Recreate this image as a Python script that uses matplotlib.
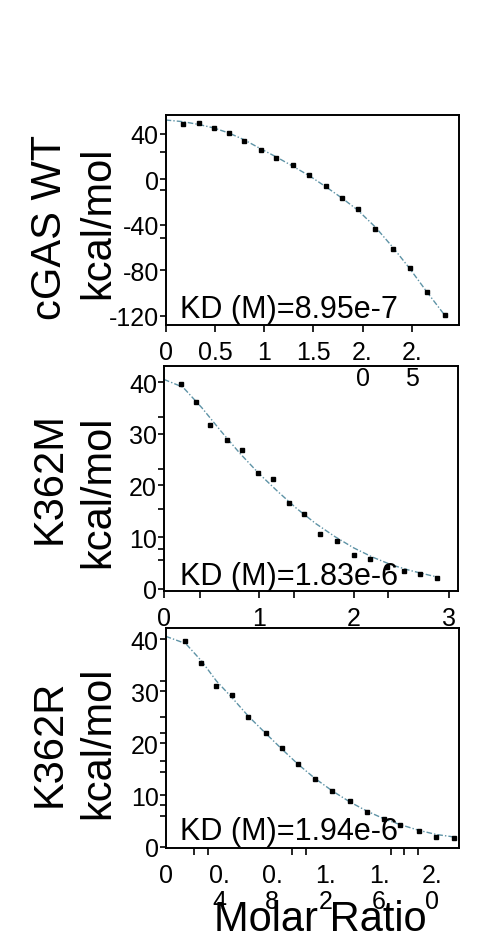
#!/usr/bin/env python3
import matplotlib
matplotlib.use("Agg")
import matplotlib.pyplot as plt

plt.rcParams['font.family'] = ['Liberation Sans', 'DejaVu Sans']

# cGAS WT
wt_x = [0.18, 0.34, 0.49, 0.645, 0.80, 0.97, 1.125, 1.29, 1.46, 1.625, 1.79, 1.95, 2.13, 2.31, 2.48, 2.65, 2.84]
wt_y = [48.2, 49.0, 44.7, 40.9, 33.6, 25.4, 18.9, 12.2, 3.5, -5.9, -16.1, -26.4, -43.3, -60.9, -78.1, -98.9, -119.4]
wt_fit_x = [0, 0.18, 0.34, 0.49, 0.645, 0.8, 0.97, 1.125, 1.29, 1.46, 1.625, 1.79, 1.95, 2.13, 2.31, 2.48, 2.65, 2.84]
wt_fit_y = [52, 50.5, 48, 45, 40.5, 34.5, 26.5, 19.5, 11.5, 3, -6.5, -16.5, -27, -42, -60, -78.5, -98.5, -120]

# K362M
m_x = [0.18, 0.34, 0.49, 0.66, 0.82, 0.99, 1.15, 1.32, 1.48, 1.65, 1.82, 2.0, 2.17, 2.35, 2.53, 2.70, 2.88]
m_y = [39.7, 36.1, 31.6, 28.8, 26.8, 22.4, 21.2, 16.6, 14.5, 10.5, 9.2, 6.6, 5.8, 4.1, 3.5, 2.9, 2.1]
m_fit_x = [0, 0.2, 0.4, 0.6, 0.8, 1.0, 1.2, 1.4, 1.6, 1.8, 2.0, 2.2, 2.4, 2.6, 2.8, 2.9]
m_fit_y = [40.5, 39, 35, 30.5, 26.2, 22.3, 18.8, 15.5, 12.6, 10.1, 7.9, 6.1, 4.6, 3.5, 2.6, 2.2]

# K362R
r_x = [0.145, 0.266, 0.38, 0.50, 0.62, 0.75, 0.87, 0.99, 1.12, 1.25, 1.38, 1.51, 1.64, 1.76, 1.90, 2.03, 2.16]
r_y = [39.7, 35.5, 31.1, 29.2, 25.1, 21.9, 19.0, 15.9, 13.1, 10.8, 8.8, 6.8, 5.3, 4.2, 3.1, 1.9, 1.8]
r_fit_x = [0, 0.15, 0.27, 0.38, 0.5, 0.62, 0.75, 0.87, 0.99, 1.12, 1.25, 1.38, 1.51, 1.64, 1.76, 1.9, 2.03, 2.17]
r_fit_y = [40.6, 39.2, 35.8, 32.0, 28.7, 25.2, 21.9, 18.9, 16.0, 13.2, 10.8, 8.7, 6.9, 5.4, 4.3, 3.2, 2.4, 1.9]

W, H = 478, 945
fig = plt.figure(figsize=(W / 100, H / 100), dpi=100)

def box(l, t, r, b):
  return [l / W, 1 - b / H, (r - l) / W, (b - t) / H]

FIT_COLOR = '#5e93a6'
TICK_FS = 18
LABEL_FS = 30

def panel(rect, x, y, fx, fy, xlim, ylim, yticks, ylabels, yminor, xticks, xlabels, xminor, kd, kd_pos):
  ax = fig.add_axes(box(*rect))
  ax.set_facecolor('none')
  ax.plot(fx, fy, color=FIT_COLOR, lw=1.0, linestyle=(0, (4, 1.5, 1, 1.5)))
  ax.plot(x, y, 's', color='black', ms=3.5, mec='black')
  ax.set_xlim(*xlim)
  ax.set_ylim(*ylim)
  ax.set_yticks(yticks)
  ax.set_yticklabels(ylabels, fontsize=TICK_FS)
  ax.set_yticks(yminor, minor=True)
  ax.set_xticks(xticks)
  ax.set_xticklabels(xlabels, fontsize=TICK_FS, linespacing=1.1)
  ax.set_xticks(xminor, minor=True)
  for s in ax.spines.values():
    s.set_linewidth(1.4)
  ax.tick_params(axis='y', which='both', direction='out', length=4, width=1.2, pad=1)
  ax.tick_params(axis='x', which='both', direction='out', length=5, width=1.2, pad=6)
  fig.text(kd_pos[0] / W, 1 - kd_pos[1] / H, kd, fontsize=22, ha='left', va='center')
  return ax

ax1 = panel((165.7, 116, 459, 326), wt_x, wt_y, wt_fit_x, wt_fit_y,
            (0, 2.98), (-128, 56.4),
            [40, 0, -40, -80, -120], ['40', '0', '-40', '-80', '-120'], [24, -9.5, -52],
            [0, 0.5, 1, 1.5, 2.0, 2.5], ['0', '0.5', '1', '1.5', '2.\n0', '2.\n5'], [],
            'KD (M)=8.95e-7', (180, 310))
ax2 = panel((164, 367, 458, 592), m_x, m_y, m_fit_x, m_fit_y,
            (0, 3.1), (-0.45, 43.1),
            [40, 30, 20, 10, 0], ['40', '30', '20', '10', '0'], [33.2, 23.2, 15.5, 7.7, 5.5],
            [0, 1, 2, 3], ['0', '1', '2', '3'], [0.38, 1.37, 2.36],
            'KD (M)=1.83e-6', (180, 577))
ax3 = panel((165.7, 629, 459, 849), r_x, r_y, r_fit_x, r_fit_y,
            (0, 2.2), (-0.2, 42.2),
            [40, 30, 20, 10, 0], ['40', '30', '20', '10', '0'], [32, 25, 22, 16.6, 14.5, 8, 6],
            [0, 0.4, 0.8, 1.2, 1.6, 2.0], ['0', '0.\n4', '0.\n8', '1.\n2', '1.\n6', '2.\n0'],
            [0.21, 0.32, 0.95, 1.05, 1.69, 1.79, 1.89],
            'KD (M)=1.94e-6', (180, 832))
ax3.tick_params(axis='x', which='major', length=0, pad=11)
ax1.set_zorder(3)

# y labels, two lines each
for name, yc1, yc2 in [('cGAS WT', 227, 223), ('K362M', 478, 492), ('K362R', 743, 743)]:
  fig.text(50 / W, 1 - yc1 / H, name, fontsize=LABEL_FS, rotation=90, ha='center', va='center')
  fig.text(98 / W, 1 - yc2 / H, 'kcal/mol', fontsize=LABEL_FS, rotation=90, ha='center', va='center')

fig.text(320 / W, 1 - 920 / H, 'Molar Ratio', fontsize=LABEL_FS, ha='center', va='center')

fig.savefig('out.png', dpi=100)
